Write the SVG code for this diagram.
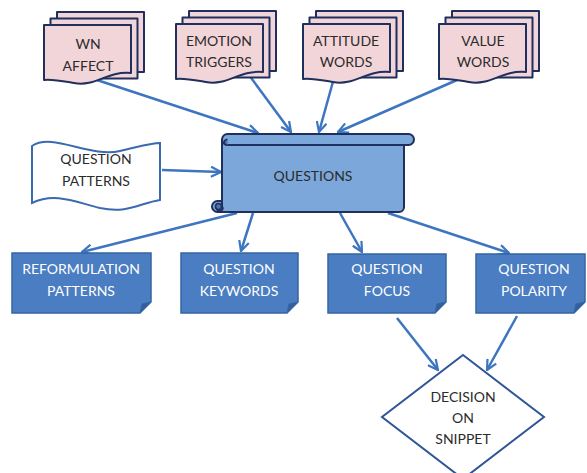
<svg xmlns="http://www.w3.org/2000/svg" width="587" height="473" viewBox="0 0 587 473">
  <style>
    .lbl { font-family: Lato, "Open Sans", "Liberation Sans", sans-serif; font-size: 14px; text-anchor: middle; }
    .dark { fill: #2b2b2b; }
    .light { fill: #ffffff; }
    .page { fill: #f2d5d8; stroke: #1f2f5e; stroke-width: 2; stroke-linejoin: round; }
    .note { fill: #4a7dc1; stroke: #3465a4; stroke-width: 1.5; }
    .fold { fill: #355f9c; stroke: #3465a4; stroke-width: 1; }
    .edge { fill: none; stroke: #3e75c0; stroke-width: 2.5; marker-end: url(#arrow); }
  </style>
  <defs>
    <marker id="arrow" viewBox="0 0 12 12" refX="11" refY="6" markerWidth="12" markerHeight="12" markerUnits="userSpaceOnUse" orient="auto">
      <path d="M1,1 L11,6 L1,11" fill="none" stroke="#3e75c0" stroke-width="2.2" stroke-linejoin="miter"/>
    </marker>
    <!-- stacked pages: two back sheets plus a front sheet with wavy bottom -->
    <g id="multidoc">
      <rect class="page" x="13" y="-13" width="87" height="60"/>
      <rect class="page" x="6.5" y="-6.5" width="87" height="60"/>
      <path class="page" d="M0,0 H87 V48 C62,46 52,62 30,58 C18,56 8,54 0,55 Z"/>
    </g>
  </defs>

  <!-- connectors -->
  <g id="connectors">
    <line class="edge" x1="97" y1="80" x2="258" y2="133"/>
    <line class="edge" x1="249" y1="75" x2="291" y2="132"/>
    <line class="edge" x1="334" y1="78" x2="319" y2="132"/>
    <line class="edge" x1="457" y1="80" x2="338" y2="132"/>
    <line class="edge" x1="162" y1="170" x2="221" y2="172"/>
    <line class="edge" x1="237" y1="213" x2="82" y2="252"/>
    <line class="edge" x1="253" y1="213" x2="241" y2="251"/>
    <line class="edge" x1="340" y1="213" x2="362" y2="252"/>
    <line class="edge" x1="388" y1="213" x2="509" y2="253"/>
    <line class="edge" x1="397" y1="318" x2="438" y2="370"/>
    <line class="edge" x1="517" y1="316" x2="487" y2="370"/>
  </g>

  <!-- source word lists -->
  <g id="wn-affect">
    <use href="#multidoc" x="44" y="25"/>
    <text class="lbl dark" x="88" y="49">WN</text>
    <text class="lbl dark" x="88" y="71">AFFECT</text>
  </g>
  <g id="emotion-triggers">
    <use href="#multidoc" x="176" y="24"/>
    <text class="lbl dark" x="219" y="46">EMOTION</text>
    <text class="lbl dark" x="219" y="67">TRIGGERS</text>
  </g>
  <g id="attitude-words">
    <use href="#multidoc" x="303" y="24"/>
    <text class="lbl dark" x="346" y="46">ATTITUDE</text>
    <text class="lbl dark" x="346" y="67">WORDS</text>
  </g>
  <g id="value-words">
    <use href="#multidoc" x="439" y="24"/>
    <text class="lbl dark" x="483" y="46">VALUE</text>
    <text class="lbl dark" x="483" y="67">WORDS</text>
  </g>

  <!-- punched-tape input -->
  <g id="question-patterns">
    <path d="M32,146 C52,132 90,158 120,151 C138,147 150,143 160,143 L160,200 C140,203 128,214 100,208 C75,202 55,192 32,203 Z" fill="#ffffff" stroke="#3a6ab0" stroke-width="2"/>
    <text class="lbl dark" x="96" y="164">QUESTION</text>
    <text class="lbl dark" x="96" y="186">PATTERNS</text>
  </g>

  <!-- central scroll -->
  <g id="questions">
    <path d="M227.5,134 H408.5 A5.5,5.5 0 0 1 408.5,145 H404 V207 A5,5 0 0 1 399,212 H217.5 A5.5,5.5 0 0 1 217.5,201 H222 V139.5 A5.5,5.5 0 0 1 227.5,134 Z" fill="#7ba7da" stroke="#1f2f5e" stroke-width="2" stroke-linejoin="round"/>
    <line x1="227.5" y1="145" x2="404" y2="145" stroke="#1f2f5e" stroke-width="2"/>
    <path d="M227.5,145 A5.5,5.5 0 0 1 222,139.5" fill="none" stroke="#1f2f5e" stroke-width="2"/>
    <path d="M227.5,139.5 A2.8,2.8 0 1 0 227.5,145" fill="#4f74ad" stroke="#1f2f5e" stroke-width="1.6"/>
    <path d="M222,201 V206.5 A2.8,2.8 0 1 1 217.5,206.5" fill="none" stroke="#1f2f5e" stroke-width="2"/>
    <circle cx="218.5" cy="206.5" r="3" fill="#4f74ad" stroke="#1f2f5e" stroke-width="1.6"/>
    <text class="lbl dark" x="313" y="181">QUESTIONS</text>
  </g>

  <!-- derived outputs -->
  <g id="reformulation-patterns">
    <path class="note" d="M12,253 H151 V302 L140,313 H12 Z"/>
    <path class="fold" d="M140,313 L142,304 L151,302 Z"/>
    <text class="lbl light" x="81" y="274">REFORMULATION</text>
    <text class="lbl light" x="81" y="296">PATTERNS</text>
  </g>
  <g id="question-keywords">
    <path class="note" d="M181,253 H298 V302 L287,313 H181 Z"/>
    <path class="fold" d="M287,313 L289,304 L298,302 Z"/>
    <text class="lbl light" x="239" y="274">QUESTION</text>
    <text class="lbl light" x="239" y="296">KEYWORDS</text>
  </g>
  <g id="question-focus">
    <path class="note" d="M328,254 H446 V302 L435,313 H328 Z"/>
    <path class="fold" d="M435,313 L437,304 L446,302 Z"/>
    <text class="lbl light" x="387" y="274">QUESTION</text>
    <text class="lbl light" x="387" y="296">FOCUS</text>
  </g>
  <g id="question-polarity">
    <path class="note" d="M476,254 H585 V302 L574,313 H476 Z"/>
    <path class="fold" d="M574,313 L576,304 L585,302 Z"/>
    <text class="lbl light" x="534" y="274">QUESTION</text>
    <text class="lbl light" x="534" y="296">POLARITY</text>
  </g>

  <!-- decision -->
  <g id="decision-on-snippet">
    <polygon points="463,355 544,417 463,479 382,417" fill="#ffffff" stroke="#2f5597" stroke-width="2"/>
    <text class="lbl dark" x="463" y="402">DECISION</text>
    <text class="lbl dark" x="463" y="423">ON</text>
    <text class="lbl dark" x="463" y="444">SNIPPET</text>
  </g>
</svg>
